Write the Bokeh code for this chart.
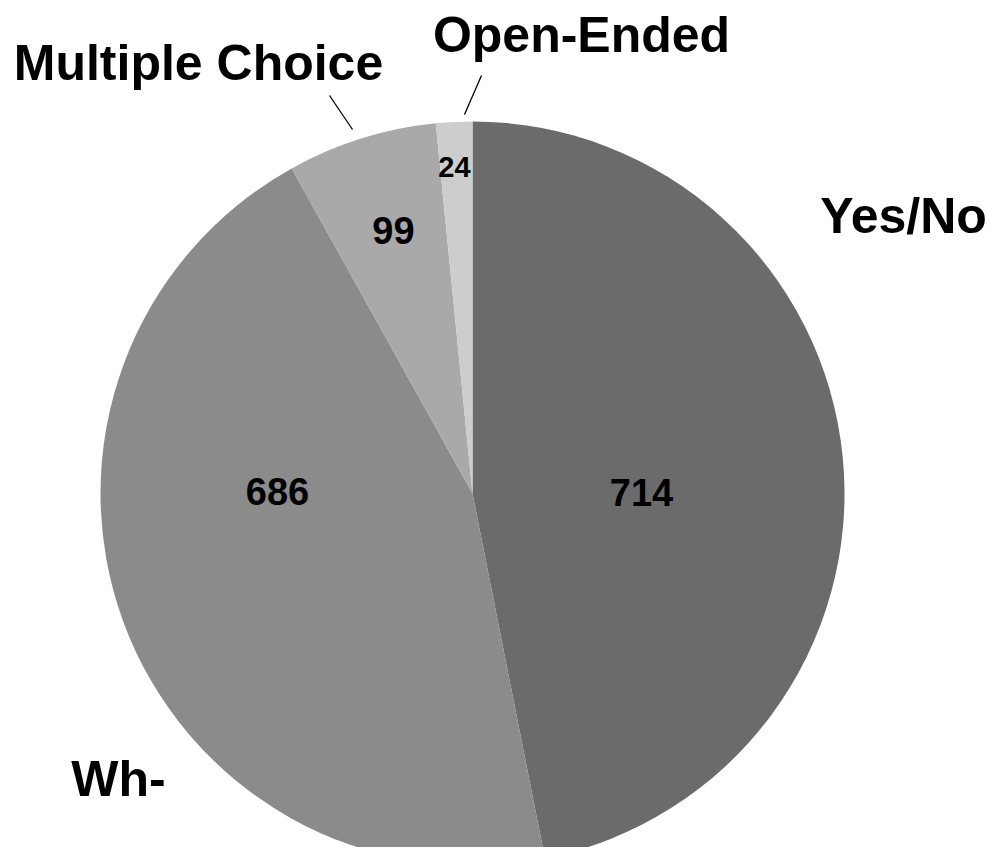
import math
from bokeh.plotting import figure
from bokeh.models import Range1d, ColumnDataSource
from bokeh.core.properties import value
from bokeh.embed import file_html
from bokeh.resources import INLINE

# ---- data ----
categories = ["Yes/No", "Wh-", "Multiple Choice", "Open-Ended"]
counts = [714, 686, 99, 24]
colors = ["#6b6b6b", "#8b8b8b", "#a9a9a9", "#cdcdcd"]

# ---- layout (screen pixel coordinates, y downward -> negated) ----
W, H = 989, 847
cx, cy, R = 472, 493, 372

p = figure(width=W, height=H, output_backend="svg", toolbar_location=None,
           x_range=Range1d(0, W), y_range=Range1d(-H, 0),
           min_border=0)
p.axis.visible = False
p.grid.visible = False
p.outline_line_color = None
p.background_fill_color = "white"
p.border_fill_color = "white"

total = sum(counts)
starts, ends = [], []
acc = 0.0
for c in counts:
    a0 = math.pi / 2 - 2 * math.pi * acc / total
    acc += c
    a1 = math.pi / 2 - 2 * math.pi * acc / total
    starts.append(a0)
    ends.append(a1)

src = ColumnDataSource(dict(cat=categories, v=counts, color=colors,
                            start=starts, end=ends))
p.wedge(x=cx, y=-cy, radius=R, start_angle="start", end_angle="end",
        direction="clock", fill_color="color", line_color=None, source=src)

# value labels (y = visual centre of the digits)
val_x = [641, 277, 393, 454]
val_y = [491.5, 491, 230, 166.5]
val_size = ["38px", "38px", "38px", "29px"]
p.text(x=val_x, y=[-y for y in val_y], text=[str(c) for c in counts],
       text_font=value("Liberation Sans"), text_font_style="bold",
       text_font_size=val_size, text_color="black",
       text_align="center", text_baseline="middle")

# category labels
cat_x = [903, 118, 198, 581]
cat_y = [215.5, 778.5, 62, 34]
p.text(x=cat_x, y=[-y for y in cat_y], text=categories,
       text_font=value("Liberation Sans"), text_font_style="bold",
       text_font_size="50px", text_color="black",
       text_align="center", text_baseline="middle")

# leader lines
p.segment(x0=[352, 464], y0=[-129, -114], x1=[329, 481], y1=[-95, -75],
          line_color="black", line_width=1.3)

open("out.html", "w").write(file_html(p, INLINE))
